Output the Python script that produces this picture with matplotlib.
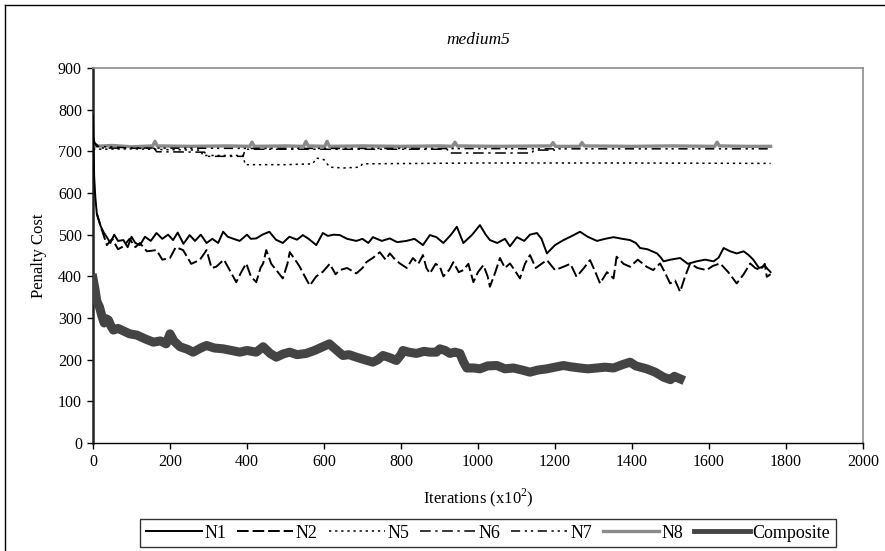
import matplotlib
matplotlib.use("Agg")
import matplotlib.pyplot as plt
from matplotlib.lines import Line2D

plt.rcParams['font.family'] = ['Liberation Serif', 'DejaVu Serif']
plt.rcParams['mathtext.fontset'] = 'custom'
plt.rcParams['mathtext.rm'] = 'Liberation Serif'

# ---------------- data ----------------
n1_x = [0, 3, 6, 10, 15, 20, 28, 36, 45, 55, 65, 79, 90, 100, 110, 122, 135, 150, 165, 180,
        195, 208, 220, 235, 251, 265, 280, 295, 310, 325, 338, 350, 365, 381, 400, 410, 424,
        440, 458, 475, 493, 510, 530, 545, 560, 580, 597, 610, 625, 641, 660, 684, 700, 715,
        727, 750, 771, 790, 814, 835, 857, 875, 892, 910, 930, 945, 962, 985, 1005, 1020,
        1031, 1050, 1070, 1083, 1101, 1120, 1135, 1153, 1165, 1179, 1200, 1222, 1240, 1265,
        1285, 1309, 1330, 1352, 1375, 1395, 1410, 1421, 1440, 1465, 1475, 1482, 1500, 1525,
        1545, 1568, 1590, 1612, 1625, 1638, 1655, 1672, 1690, 1703, 1715, 1730, 1745, 1760]
n1_y = [785, 640, 590, 550, 535, 520, 505, 494, 480, 500, 485, 487, 470, 495, 480, 475, 495,
        485, 504, 490, 500, 487, 505, 478, 499, 485, 500, 480, 490, 480, 507, 495, 490, 485,
        500, 490, 491, 500, 507, 488, 480, 495, 488, 499, 490, 475, 504, 497, 500, 499, 490,
        485, 490, 480, 494, 485, 491, 482, 485, 490, 475, 499, 494, 480, 500, 519, 480, 500,
        523, 500, 487, 480, 490, 472, 494, 485, 500, 504, 490, 455, 475, 487, 495, 507, 495,
        485, 490, 494, 490, 487, 480, 468, 465, 455, 445, 436, 440, 444, 430, 436, 440, 436,
        445, 468, 460, 455, 460, 451, 440, 420, 425, 410]

n2_x = [10, 20, 36, 50, 65, 79, 95, 110, 122, 140, 165, 180, 200, 215, 234, 255, 277, 295,
        308, 320, 340, 355, 372, 385, 398, 410, 424, 435, 442, 450, 463, 476, 493, 505, 511,
        525, 537, 550, 563, 580, 597, 615, 630, 641, 660, 684, 700, 710, 728, 745, 760, 771,
        785, 797, 815, 831, 845, 857, 866, 875, 890, 901, 910, 925, 936, 950, 962, 975, 988,
        1000, 1014, 1025, 1031, 1045, 1057, 1070, 1083, 1095, 1109, 1122, 1135, 1150, 1165,
        1179, 1200, 1222, 1240, 1256, 1275, 1291, 1305, 1317, 1335, 1352, 1360, 1378, 1395,
        1415, 1438, 1455, 1473, 1485, 1499, 1512, 1525, 1538, 1551, 1570, 1594, 1610, 1629,
        1650, 1672, 1690, 1707, 1720, 1733, 1745, 1750, 1760]
n2_y = [550, 520, 475, 490, 465, 472, 490, 470, 480, 460, 463, 440, 444, 470, 463, 430, 439,
        463, 420, 423, 440, 415, 386, 410, 431, 400, 386, 420, 431, 463, 430, 415, 395, 430,
        458, 440, 423, 400, 378, 400, 411, 430, 405, 415, 420, 407, 420, 434, 445, 458, 440,
        455, 440, 431, 420, 444, 430, 451, 420, 407, 430, 423, 400, 415, 434, 410, 415, 430,
        386, 410, 427, 400, 375, 410, 444, 420, 431, 415, 395, 430, 451, 420, 430, 439, 415,
        423, 430, 399, 420, 439, 410, 383, 410, 395, 447, 430, 423, 440, 423, 415, 431, 410,
        383, 390, 363, 400, 431, 420, 415, 425, 431, 410, 383, 405, 431, 420, 415, 430, 399,
        405]

n5_x = [0, 100, 200, 280, 285, 390, 395, 500, 571, 580, 600, 608, 615, 650, 693, 700, 1000,
        1400, 1760]
n5_y = [705, 706, 704, 703, 690, 690, 668, 668, 670, 684, 680, 670, 662, 660, 662, 670, 672,
        672, 671]

n6_x = [0, 5, 20, 160, 165, 290, 295, 390, 395, 920, 925, 1140, 1145, 1200]
n6_y = [735, 720, 708, 707, 699, 698, 688, 688, 705, 705, 696, 696, 703, 703]

n7_x = [0, 10, 100, 400, 800, 1200, 1600, 1760]
n7_y = [725, 712, 708, 707, 707, 706, 706, 706]

n8_x = [0, 50, 100, 155, 161, 167, 250, 350, 407, 413, 419, 500, 547, 553, 559, 602, 608,
        614, 700, 800, 900, 934, 940, 946, 1050, 1189, 1195, 1201, 1264, 1270, 1276, 1400,
        1500, 1615, 1621, 1627, 1700, 1760]
n8_y = [712, 714, 711, 713, 724, 713, 712, 713, 712, 722, 712, 713, 712, 724, 713, 712, 724,
        712, 713, 712, 713, 712, 722, 713, 712, 713, 721, 712, 712, 721, 713, 712, 713, 712,
        722, 713, 712, 712]

comp_x = [0, 5, 10, 17, 23, 29, 35, 40, 47, 53, 65, 79, 95, 114, 135, 157, 175, 190, 200,
          210, 226, 245, 260, 280, 295, 315, 338, 360, 381, 400, 424, 442, 460, 476, 495, 511,
          530, 554, 575, 597, 614, 630, 649, 665, 684, 705, 727, 740, 753, 770, 788, 800, 805,
          820, 840, 860, 875, 892, 901, 915, 927, 940, 953, 962, 971, 990, 1005, 1025, 1049,
          1070, 1092, 1115, 1135, 1155, 1179, 1200, 1222, 1240, 1265, 1285, 1309, 1330, 1352,
          1375, 1395, 1410, 1438, 1460, 1482, 1500, 1510, 1525]
comp_y = [395, 370, 340, 326, 305, 288, 298, 295, 280, 271, 275, 269, 262, 259, 250, 242, 245,
          238, 262, 245, 231, 225, 218, 228, 234, 228, 226, 222, 218, 222, 218, 231, 215, 206,
          214, 218, 212, 215, 222, 231, 238, 225, 210, 212, 206, 200, 194, 200, 210, 205, 198,
          212, 222, 218, 215, 220, 218, 218, 226, 222, 215, 218, 215, 195, 180, 180, 178, 185,
          186, 178, 180, 175, 170, 175, 178, 182, 186, 183, 180, 178, 180, 182, 180, 188, 194,
          185, 178, 170, 158, 152, 160, 154]

x_ticks = [0, 200, 400, 600, 800, 1000, 1200, 1400, 1600, 1800, 2000]
y_ticks = [0, 100, 200, 300, 400, 500, 600, 700, 800, 900]

# ---------------- figure ----------------
W, H = 885, 551
fig = plt.figure(figsize=(W / 100, H / 100), dpi=100)
ax = fig.add_axes([93 / W, 1 - 443 / H, (863 - 93) / W, (443 - 68) / H])

l_n8, = ax.plot(n8_x, n8_y, color='#8a8a8a', lw=2.4, label='N8', zorder=3)
l_n7, = ax.plot(n7_x, n7_y, color='black', lw=1.1, dashes=(6, 3, 1.5, 2.5, 1.5, 3), label='N7', zorder=4)
l_n6, = ax.plot(n6_x, n6_y, color='black', lw=1.1, dashes=(7, 3, 1.5, 3), label='N6', zorder=4)
l_n5, = ax.plot(n5_x, n5_y, color='black', lw=1.1, dashes=(1.5, 2.5), label='N5', zorder=4)
l_n2, = ax.plot(n2_x, n2_y, color='black', lw=1.4, dashes=(6, 2), label='N2', zorder=4)
l_n1, = ax.plot(n1_x, n1_y, color='black', lw=1.4, label='N1', zorder=5)
l_c, = ax.plot(comp_x, comp_y, color='#444444', lw=6.5, label='Composite', zorder=4)

ax.set_xlim(0, 2000)
ax.set_ylim(0, 900)
ax.set_xticks(x_ticks)
ax.set_yticks(y_ticks)
ax.tick_params(axis='both', direction='out', length=4, width=1, labelsize=11.5, colors='black',
               pad=4)

for s in ['top', 'right']:
    ax.spines[s].set_color('#8c8c8c')
    ax.spines[s].set_linewidth(1.2)
ax.spines['left'].set_color('#222222')
ax.spines['left'].set_linewidth(1.8)
ax.spines['bottom'].set_color('black')
ax.spines['bottom'].set_linewidth(1.0)

fig.text(478 / W, 1 - 40 / H, 'medium5', fontsize=12.5, style='italic',
         ha='center', va='center')
ax.set_xlabel('Iterations (x10$^{2}$)', fontsize=12)
ax.set_ylabel('Penalty Cost', fontsize=12)
ax.xaxis.set_label_coords((478 - 93) / 770, (443 - 486) / 375)
ax.yaxis.set_label_coords((47 - 93) / 770, 0.5)

handles = [l_n1, l_n2, l_n5, l_n6, l_n7, l_n8, l_c]
leg = fig.legend(handles=handles, labels=[h.get_label() for h in handles],
                 loc='center', bbox_to_anchor=(488 / W, 1 - 533 / H), ncol=7,
                 frameon=True, fancybox=False, edgecolor='black', fontsize=13,
                 handlelength=3.1, handletextpad=0.15, columnspacing=0.6,
                 borderpad=0.3, borderaxespad=0)
leg.get_frame().set_linewidth(1.0)
for lh in leg.get_lines():
    if lh.get_label() == 'Composite':
        lh.set_linewidth(3.5)

# outer chart border (left and top visible in reference)
fig.add_artist(Line2D([5 / W, 5 / W], [0, 1 - 5 / H], color='black', lw=1.0,
                      transform=fig.transFigure))
fig.add_artist(Line2D([5 / W, 1], [1 - 5 / H, 1 - 5 / H], color='black', lw=1.0,
                      transform=fig.transFigure))

fig.savefig('out.png', dpi=100)
